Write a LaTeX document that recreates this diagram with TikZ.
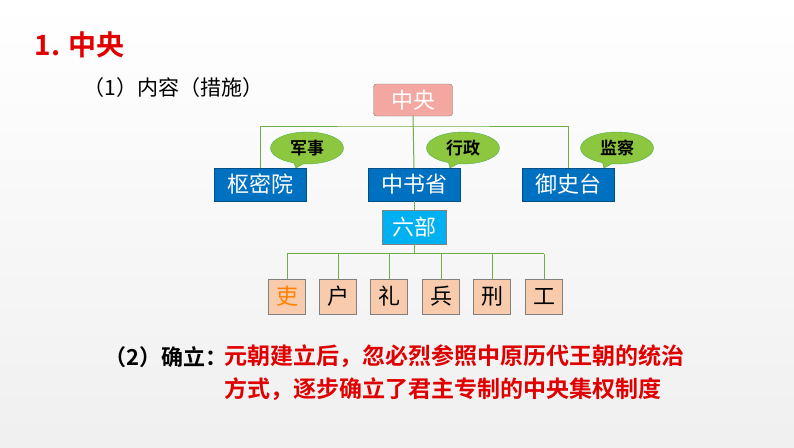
\documentclass[tikz,border=0pt]{standalone}
\usepackage{fontspec}
\setmainfont{Noto Sans CJK SC}
\newfontfamily\cjkb{Noto Sans CJK SC Bold}
\usetikzlibrary{shapes.callouts}
\definecolor{gline}{HTML}{70AD47}
\definecolor{bluebox}{HTML}{0070C0}
\definecolor{cyanbox}{HTML}{00B0F0}
\definecolor{pinkbox}{HTML}{F4A6A0}
\definecolor{peach}{HTML}{F8CBAD}
\definecolor{bub}{HTML}{8DC63F}
\definecolor{tred}{HTML}{E00000}
\begin{document}
\begin{tikzpicture}[x=1pt,y=-1pt,
  bbox/.style={fill=bluebox,draw=bluebox!70!black,minimum width=92pt,minimum height=33pt,text=white,font=\fontsize{22}{22}\selectfont,inner sep=0},
  sbox/.style={fill=peach,draw=gray,minimum width=37pt,minimum height=35pt,font=\fontsize{22}{22}\selectfont,inner sep=0},
  bubble/.style={ellipse callout,fill=bub,draw=gray!60!green,minimum width=73pt,minimum height=32pt,font=\cjkb\fontsize{17}{17}\selectfont,inner sep=0},
  gl/.style={draw=gline,line width=1pt}]
\shade[top color=white,bottom color=gray!12] (0,0) rectangle (794,447);
\node[anchor=west,text=tred,font=\cjkb\fontsize{28}{28}\selectfont] (t1) at (31,45) {1. 中央};
\node[anchor=west,font=\fontsize{21}{21}\selectfont] (t2) at (80,88) {（1）内容（措施）};
\node[fill=pinkbox,draw=gray,rounded corners=3pt,minimum width=79pt,minimum height=32pt,text=white,font=\fontsize{22}{22}\selectfont,inner sep=0] (zy) at (413,100) {中央};
\node[bbox] (smy) at (260,184.5) {枢密院};
\node[bbox] (zss) at (414,184.5) {中书省};
\node[bbox] (yst) at (568,184.5) {御史台};
\node[fill=cyanbox,draw=gray,minimum width=64pt,minimum height=34pt,text=white,font=\fontsize{22}{22}\selectfont,inner sep=0] (lb) at (414,227) {六部};
\coordinate (h) at (0,126);
\draw[gl] (zy.south) -- (zss.north);
\draw[gl] (smy.north) |- (h -| zy.south) -| (yst.north);
\draw[gl] (zss.south) -- (lb.north);
\foreach \n/\x/\t in {a/287/吏,b/338/户,c/389/礼,d/441/兵,e/492/刑,f/544/工}{
  \node[sbox] (\n) at (\x,296.5) {\t};
  \draw[gl] (\n.north) -- ++(0,-25) coordinate (top\n);
}
\node[sbox,text=orange] at (a) {吏};
\draw[gl] (topa) -- (topf);
\draw[gl] (lb.south) -- (lb.south |- topa);
\node[bubble,callout absolute pointer={(296,168)}] (b1) at (307,148) {军事};
\node[bubble,callout absolute pointer={(450,168)}] (b2) at (463,148) {行政};
\node[bubble,callout absolute pointer={(604,168)}] (b3) at (617,148) {监察};
\node[anchor=west,font=\cjkb\fontsize{22}{22}\selectfont,inner sep=0] (q2) at (104,357) {（2）确立：};
\node[anchor=north west,text=tred,align=left,font=\cjkb\fontsize{23}{33}\selectfont,inner sep=0] (q2t) at (224,344) {元朝建立后，忽必烈参照中原历代王朝的统治\\方式，逐步确立了君主专制的中央集权制度};
\end{tikzpicture}
\end{document}
